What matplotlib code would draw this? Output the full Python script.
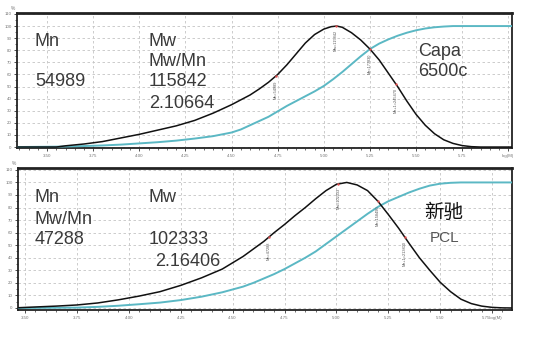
import numpy as np
import matplotlib
matplotlib.use("Agg")
import matplotlib.pyplot as plt
from matplotlib.ticker import MultipleLocator, FixedLocator

plt.rcParams['font.family'] = ['Liberation Sans', 'Noto Sans CJK SC', 'DejaVu Sans']

# ---------------- data ----------------
# top panel (Capa 6500c)
top_black_x = [3.34, 3.55, 3.60, 3.70, 3.80, 3.90, 4.00, 4.10, 4.20, 4.30, 4.40, 4.50,
               4.60, 4.65, 4.70, 4.75, 4.80, 4.85, 4.90, 4.95, 5.00, 5.04, 5.07, 5.10,
               5.15, 5.20, 5.25, 5.30, 5.35, 5.40, 5.45, 5.50, 5.55, 5.60, 5.65, 5.70,
               5.75, 5.80, 5.85, 6.02]
top_black_y = [0, 0, 1, 2.5, 4.5, 7.5, 10.5, 14, 17.5, 22, 28, 35,
               43, 48, 53.5, 60, 68, 77, 86, 93, 97.5, 99.5, 100, 99,
               94.5, 88.5, 81, 72, 61, 50, 38, 27, 18, 11, 6, 3,
               1.2, 0.3, 0, 0]
top_cyan_x = [3.34, 3.55, 3.70, 3.80, 3.90, 4.00, 4.10, 4.20, 4.30, 4.40, 4.50, 4.55,
              4.60, 4.65, 4.70, 4.75, 4.80, 4.85, 4.90, 4.95, 5.00, 5.05, 5.10, 5.15,
              5.20, 5.25, 5.30, 5.35, 5.40, 5.45, 5.50, 5.55, 5.60, 5.65, 5.70, 6.02]
top_cyan_y = [0, 0.3, 0.8, 1.3, 2, 3, 4, 5.3, 7, 9, 12, 14.5,
              18, 21.5, 25, 29.5, 34, 38, 42, 46, 50.5, 56, 62, 68.5,
              75, 81, 85.5, 89, 92, 94.5, 96.5, 98, 99, 99.6, 100, 100]
top_mark_x = [4.74, 5.064, 5.25, 5.39]
top_mark_lbl = ["Mn=54989", "Mw=115842", "Mz=177830", "Mz+1=245470"]

# bottom panel (新驰 PCL)
bot_black_x = [3.466, 3.55, 3.65, 3.75, 3.85, 3.95, 4.05, 4.15, 4.25, 4.35, 4.45, 4.55,
               4.60, 4.65, 4.70, 4.75, 4.80, 4.85, 4.90, 4.95, 5.00, 5.05, 5.10, 5.15,
               5.20, 5.25, 5.30, 5.35, 5.40, 5.45, 5.50, 5.55, 5.60, 5.65, 5.70, 5.75,
               5.80, 5.846]
bot_black_y = [0.2, 0.8, 1.5, 2.4, 4, 6.5, 9.5, 13, 18, 24, 31, 41,
               47, 53, 60, 66.5, 73.5, 80, 87, 93.5, 98.5, 100, 98, 93.5,
               85, 74.5, 63.5, 51.5, 40, 30, 20.5, 13, 7, 3.5, 1.5, 0.5,
               0.1, 0]
bot_cyan_x = [3.466, 3.75, 3.85, 3.95, 4.05, 4.15, 4.25, 4.35, 4.45, 4.55, 4.60, 4.65,
              4.70, 4.75, 4.80, 4.85, 4.90, 4.95, 5.00, 5.05, 5.10, 5.15, 5.20, 5.25,
              5.30, 5.35, 5.40, 5.45, 5.50, 5.55, 5.60, 5.846]
bot_cyan_y = [0, 0.3, 0.9, 1.8, 3, 4.3, 6.3, 9, 12.5, 17, 20, 23.5,
              27, 31, 35.5, 40, 45, 51, 57, 63, 69, 75, 80.5, 85,
              88.5, 92, 95, 97.5, 99, 99.7, 100, 100]
bot_mark_x = [4.675, 5.01, 5.20, 5.33]
bot_mark_lbl = ["Mn=47288", "Mw=102333", "Mz=158490", "Mz+1=213800"]

top_xticks = [3.50, 3.75, 4.00, 4.25, 4.50, 4.75, 5.00, 5.25, 5.50, 5.75, 6.00]
top_xlabels = ["3.50", "3.75", "4.00", "4.25", "4.50", "4.75", "5.00", "5.25", "5.50", "5.75", "log(M)"]
bot_xticks = [3.50, 3.75, 4.00, 4.25, 4.50, 4.75, 5.00, 5.25, 5.50, 5.75]
bot_xlabels = ["3.50", "3.75", "4.00", "4.25", "4.50", "4.75", "5.00", "5.25", "5.50", "5.75log(M)"]
yticks = list(range(0, 111, 10))

BLACK = "#111111"
CYAN = "#5bb8c4"
GRID = "#c4c4c4"
TXT = "#3a3a3a"

fig = plt.figure(figsize=(5.35, 3.45), dpi=100)
fig.patch.set_facecolor("white")

ax1 = fig.add_axes([17/535, 1-148/345, 495/535, 135/345])
ax2 = fig.add_axes([18/535, 1-310/345, 494/535, 142/345])


def style(ax, xlim, ylim, xt, xl):
    ax.set_xlim(*xlim)
    ax.set_ylim(*ylim)
    ax.xaxis.set_major_locator(FixedLocator(xt))
    ax.set_xticklabels(xl)
    ax.xaxis.set_minor_locator(MultipleLocator(0.05))
    ax.yaxis.set_major_locator(FixedLocator(yticks))
    ax.yaxis.set_minor_locator(MultipleLocator(5))
    ax.set_yticklabels([str(v) for v in yticks])
    ax.tick_params(axis='both', which='major', labelsize=3.2, labelcolor="#777777",
                   length=2.5, width=0.6, color="#333333", pad=1.5, direction='out')
    ax.tick_params(axis='both', which='minor', length=1.5, width=0.5, color="#333333",
                   direction='out')
    ax.grid(True, which='major', color=GRID, linestyle=(0, (3, 3)), linewidth=0.6)
    ax.set_axisbelow(True)
    for s in ax.spines.values():
        s.set_linewidth(1.3)
        s.set_color("#222222")
    ax.spines['top'].set_linewidth(2.0)
    ax.text(-0.004, 1.015, "%", transform=ax.transAxes, fontsize=3.5, color="#777777",
            ha='right', va='bottom')


def draw(ax, bx, by, cx, cy, mx, ml):
    ax.plot(cx, cy, color=CYAN, lw=1.4, zorder=3)
    ax.plot(bx, by, color=BLACK, lw=1.1, zorder=4)
    my = np.interp(mx, bx, by)
    ax.scatter(mx, my, s=3, color="#e05050", zorder=5, linewidths=0)
    for x, y, l in zip(mx, my, ml):
        ax.annotate(l, (x, y), xytext=(0, -3), textcoords='offset points',
                    rotation=90, fontsize=2.8, color="#555555", ha='center', va='top')


style(ax1, (3.337, 6.02), (-0.8, 110.8), top_xticks, top_xlabels)
draw(ax1, top_black_x, top_black_y, top_cyan_x, top_cyan_y, top_mark_x, top_mark_lbl)

style(ax2, (3.466, 5.846), (-1.6, 111.5), bot_xticks, bot_xlabels)
draw(ax2, bot_black_x, bot_black_y, bot_cyan_x, bot_cyan_y, bot_mark_x, bot_mark_lbl)


def ftext(x, y, s, size=13, color=TXT, **kw):
    fig.text(x/535, 1-y/345, s, fontsize=size, color=color, va='center', ha='left', **kw)

# top annotations
ftext(35, 41, "Mn")
ftext(35, 82, "54989")
ftext(149, 41, "Mw")
ftext(149, 62, "Mw/Mn")
ftext(149, 82, "115842")
ftext(149, 103, "2.10664")
ftext(418, 51, "Capa")
ftext(418, 72, "6500c")

# bottom annotations
ftext(35, 198, "Mn")
ftext(35, 220, "Mw/Mn")
ftext(35, 240, "47288")
ftext(149, 198, "Mw")
ftext(149, 240, "102333")
ftext(155, 261, "2.16406")
ftext(424, 212, "新驰", size=14, color="#111111", family=['Noto Sans CJK SC', 'DejaVu Sans'])
ftext(430, 238, "PCL", size=11, color="#555555")

fig.savefig("out.png", dpi=100, facecolor="white")
